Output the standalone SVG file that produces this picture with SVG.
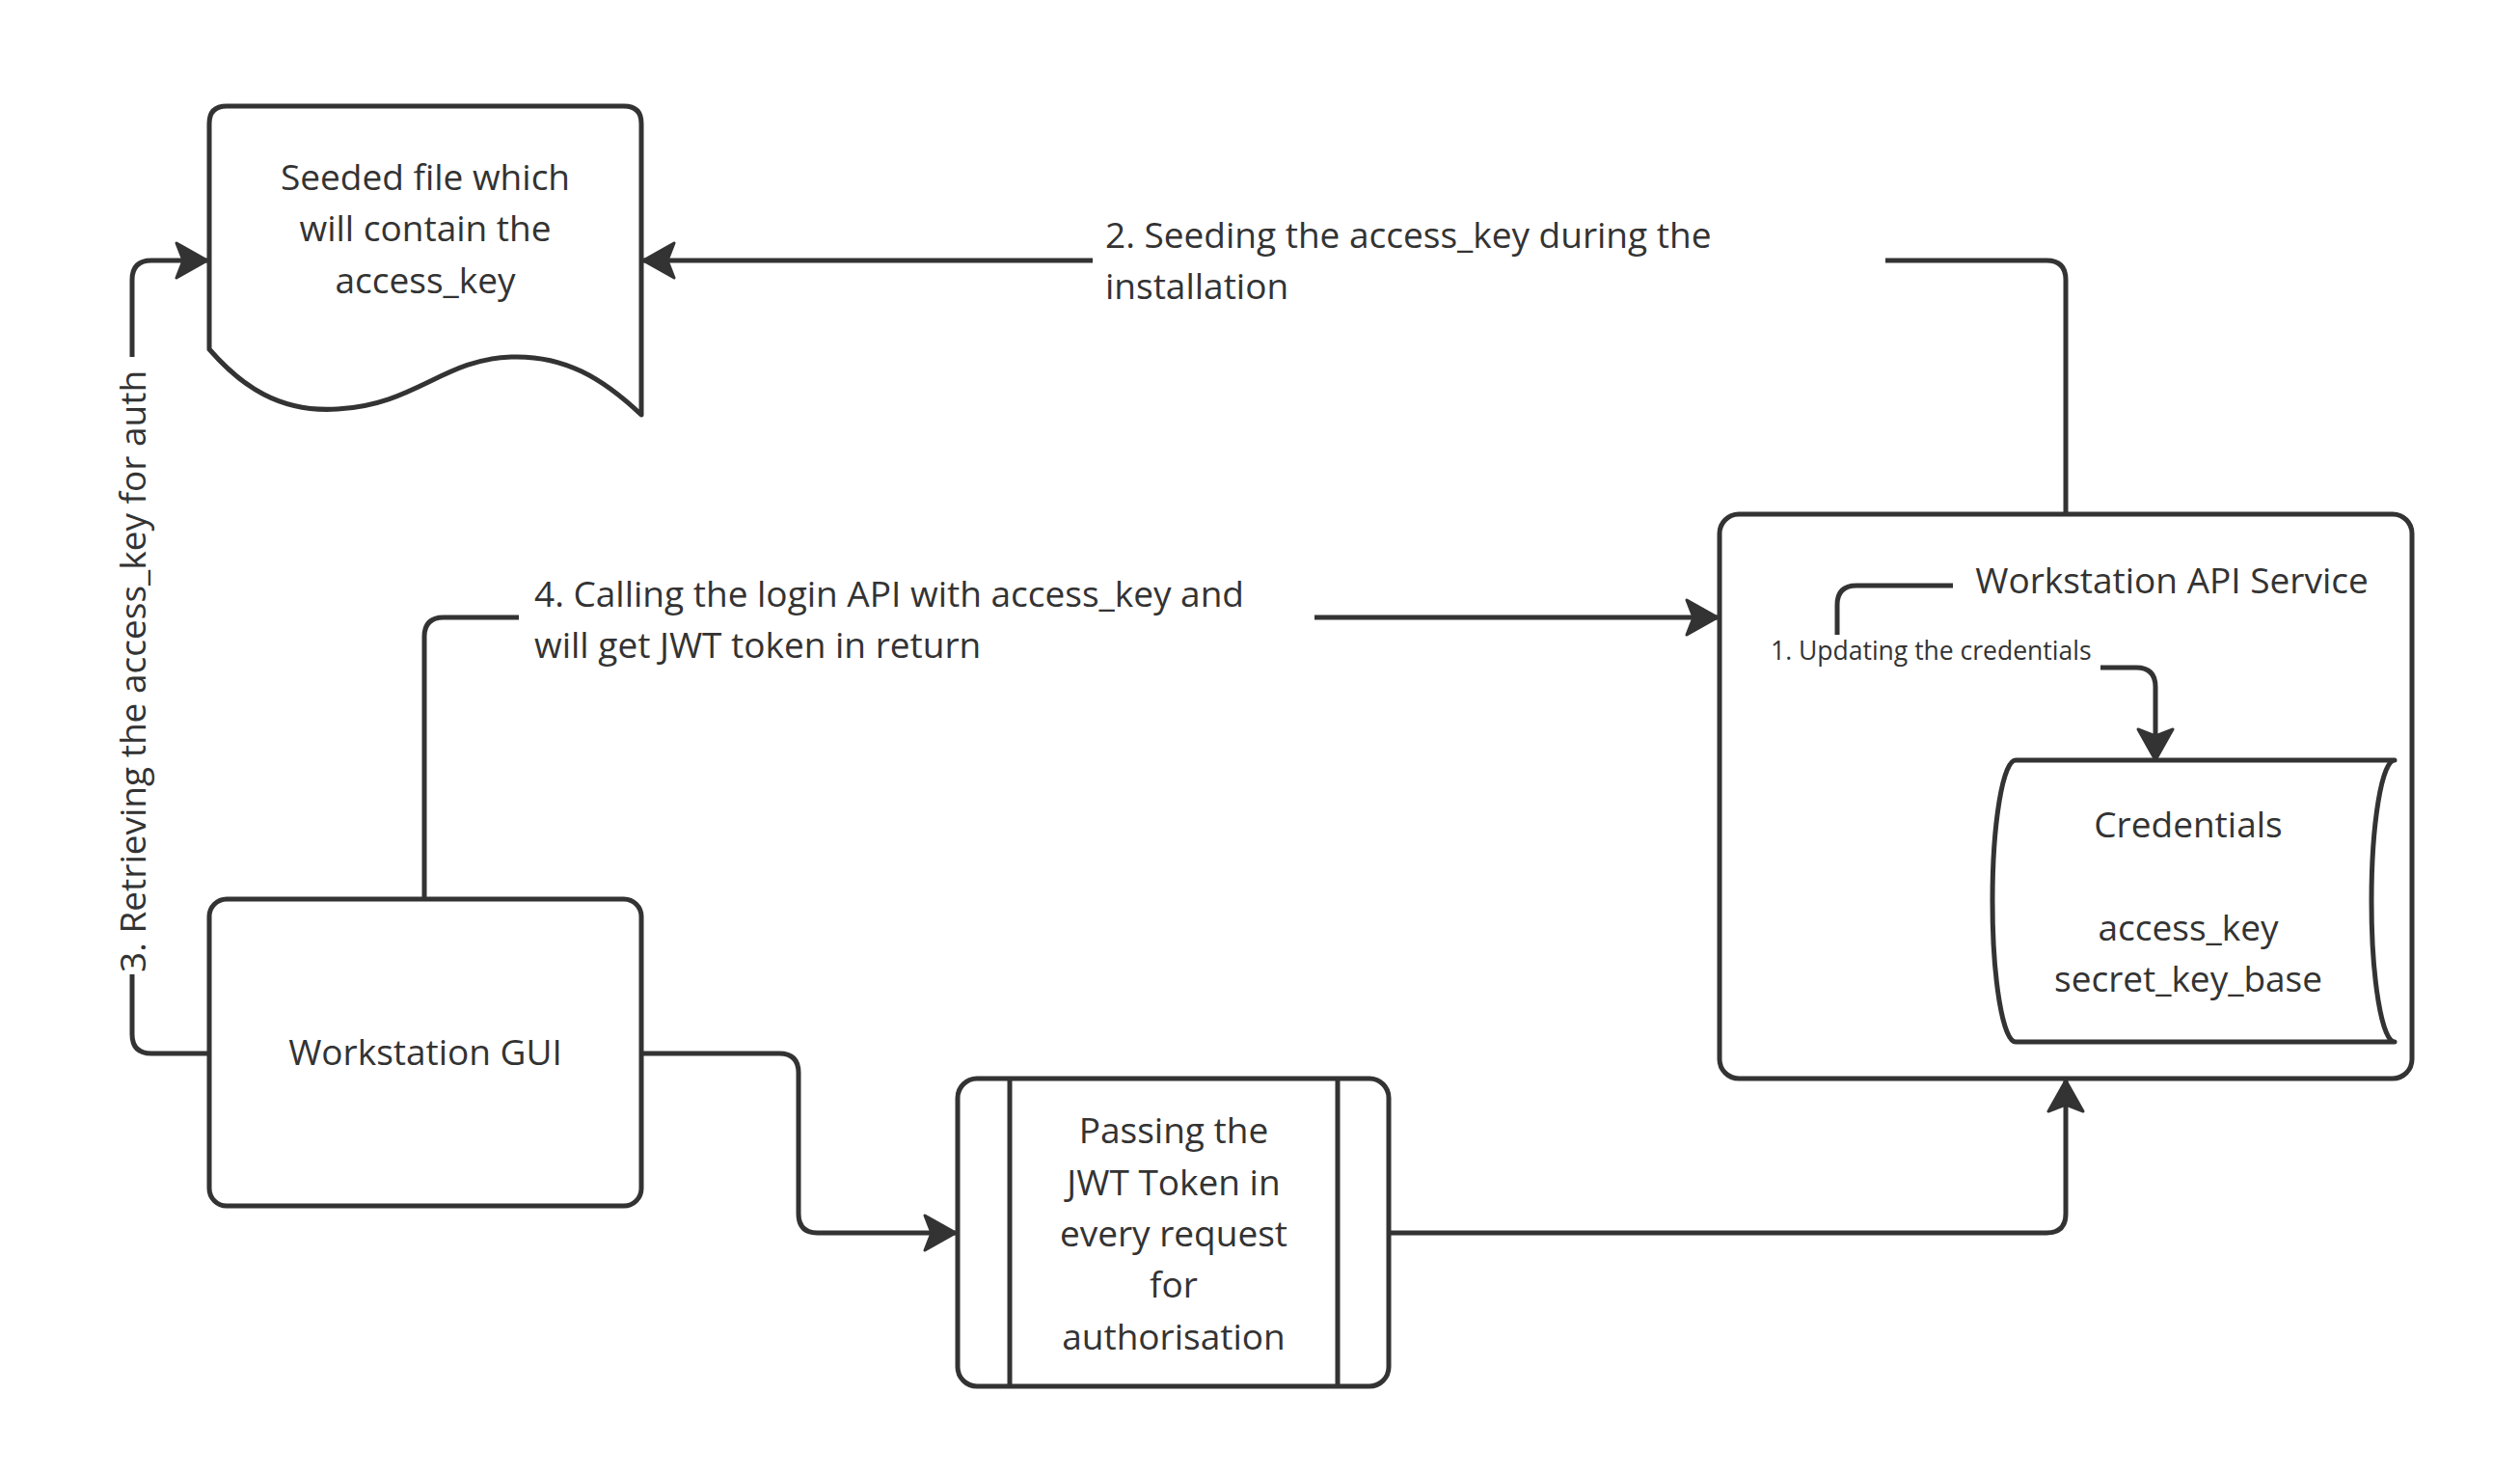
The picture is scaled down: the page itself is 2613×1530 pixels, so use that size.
<svg xmlns="http://www.w3.org/2000/svg" width="2613" height="1530" viewBox="0 0 2613 1530">
<style>
.shape{fill:#ffffff;stroke:#333333;stroke-width:5;stroke-linejoin:round}
.conn{fill:none;stroke:#333333;stroke-width:5}
.t{font-family:"Open Sans","Noto Sans","Liberation Sans",sans-serif;font-size:37px;fill:#333333}
.c{text-anchor:middle}
.s{font-size:26.5px}
</style>
<defs>
<marker id="arr" viewBox="-36 -22 38 44" refX="0" refY="0" markerWidth="38" markerHeight="44" orient="auto" markerUnits="userSpaceOnUse">
<path d="M0,0 L-32,-18 L-25,0 L-32,18 Z" fill="#333333" stroke="#333333" stroke-width="3" stroke-linejoin="round"/>
</marker>
</defs>
<rect width="2613" height="1530" fill="#ffffff"/>

<g id="seeded-file">
<path class="shape" d="M217,362 L217,128 Q217,110 235,110 L647,110 Q665,110 665,128 L665,430 C625,392 585,368 530,370 C460,372 430,420 350,424 C290,428 250,400 217,362 Z"/>
<text class="t c" x="441" y="197">Seeded file which</text>
<text class="t c" x="441" y="250">will contain the</text>
<text class="t c" x="441" y="304">access_key</text>
</g>

<g id="workstation-gui">
<rect class="shape" x="217" y="932" width="448" height="318" rx="18"/>
<text class="t c" x="441" y="1104">Workstation GUI</text>
</g>

<g id="jwt-process">
<rect class="shape" x="993" y="1118" width="447" height="319" rx="20"/>
<line class="conn" x1="1047" y1="1118" x2="1047" y2="1437"/>
<line class="conn" x1="1387" y1="1118" x2="1387" y2="1437"/>
<text class="t c" x="1217" y="1185">Passing the</text>
<text class="t c" x="1217" y="1239">JWT Token in</text>
<text class="t c" x="1217" y="1292">every request</text>
<text class="t c" x="1217" y="1345">for</text>
<text class="t c" x="1217" y="1399">authorisation</text>
</g>

<g id="api-service">
<rect class="shape" x="1783" y="533" width="718" height="585" rx="20"/>
<text class="t c" x="2252" y="615">Workstation API Service</text>
</g>

<g id="credentials">
<path class="shape" d="M2090,788 L2483,788 A24,146 0 0 0 2483,1080 L2090,1080 A24,146 0 0 1 2090,788 Z"/>
<text class="t c" x="2269" y="868">Credentials</text>
<text class="t c" x="2269" y="975">access_key</text>
<text class="t c" x="2269" y="1028">secret_key_base</text>
</g>

<g id="connectors">
<path class="conn" d="M2025,607 L1925,607 Q1905,607 1905,627 L1905,658"/>
<path class="conn" d="M2178,692 L2215,692 Q2235,692 2235,712 L2235,788" marker-end="url(#arr)"/>
<text class="t s" x="1836" y="684">1. Updating the credentials</text>

<path class="conn" d="M2142,533 L2142,290 Q2142,270 2122,270 L1955,270"/>
<path class="conn" d="M1133,270 L667,270" marker-end="url(#arr)"/>
<text class="t" x="1146" y="257">2. Seeding the access_key during the</text>
<text class="t" x="1146" y="310">installation</text>

<path class="conn" d="M217,1092 L157,1092 Q137,1092 137,1072 L137,1010"/>
<path class="conn" d="M137,370 L137,290 Q137,270 157,270 L215,270" marker-end="url(#arr)"/>
<text class="t" transform="translate(151,1008) rotate(-90)">3. Retrieving the access_key for auth</text>

<path class="conn" d="M440,932 L440,660 Q440,640 460,640 L538,640"/>
<path class="conn" d="M1363,640 L1781,640" marker-end="url(#arr)"/>
<text class="t" x="554" y="629">4. Calling the login API with access_key and</text>
<text class="t" x="554" y="682">will get JWT token in return</text>

<path class="conn" d="M665,1092 L808,1092 Q828,1092 828,1112 L828,1258 Q828,1278 848,1278 L991,1278" marker-end="url(#arr)"/>
<path class="conn" d="M1440,1278 L2122,1278 Q2142,1278 2142,1258 L2142,1120" marker-end="url(#arr)"/>
</g>
</svg>
